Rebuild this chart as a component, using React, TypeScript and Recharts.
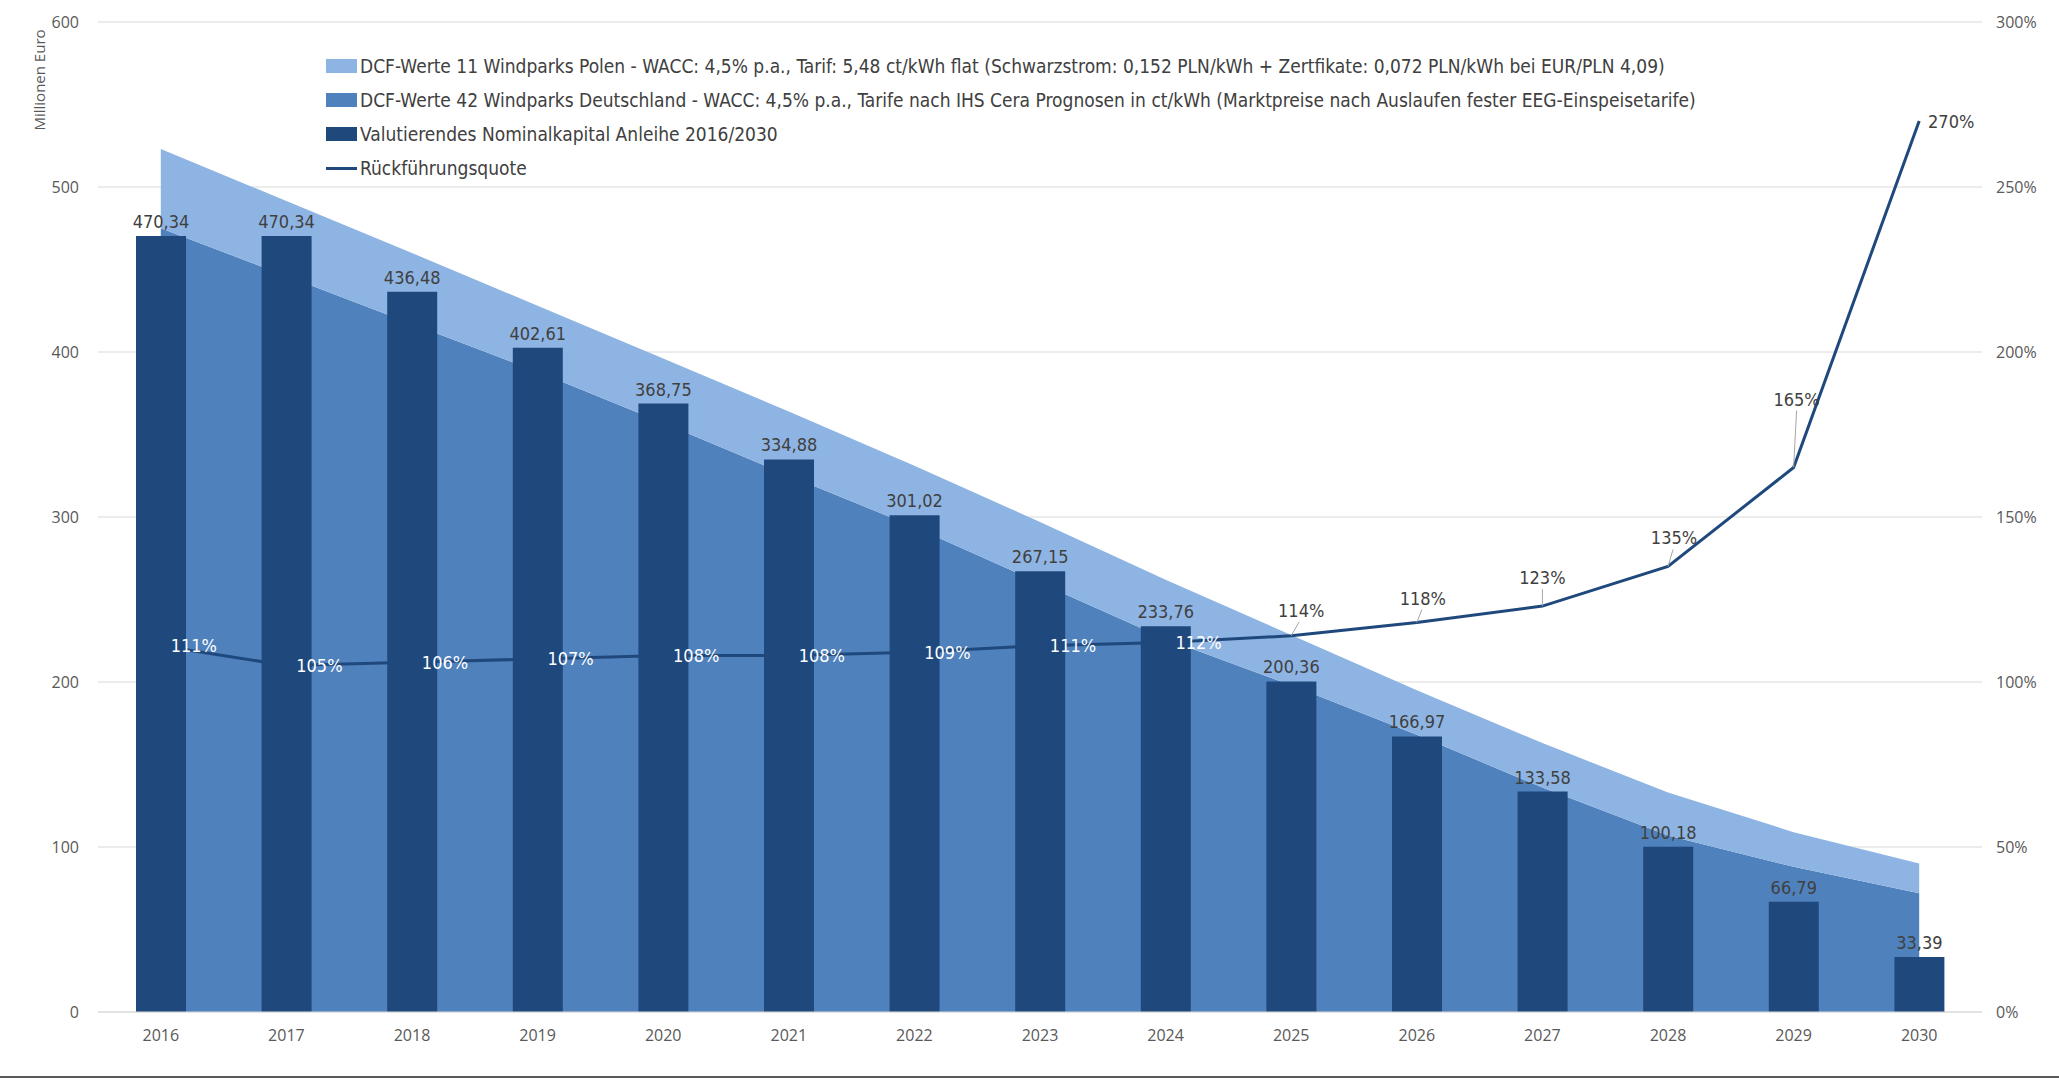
import React from 'react';
import {
  ComposedChart, Area, Bar, Line, XAxis, YAxis, CartesianGrid, LabelList,
} from 'recharts';

const years = ['2016', '2017', '2018', '2019', '2020', '2021', '2022', '2023', '2024', '2025', '2026', '2027', '2028', '2029', '2030'];
const dcfGermany = [475, 446, 417, 388, 357, 325, 294, 260, 226, 198, 168, 136, 107, 88, 72];
const dcfPoland = [48, 45.5, 43, 40, 39, 39, 37, 37, 36, 30.5, 27, 27, 26, 21, 18];
const nominal = [470.34, 470.34, 436.48, 402.61, 368.75, 334.88, 301.02, 267.15, 233.76, 200.36, 166.97, 133.58, 100.18, 66.79, 33.39];
const quote = [111, 105, 106, 107, 108, 108, 109, 111, 112, 114, 118, 123, 135, 165, 270];

const leftTicks = [0, 100, 200, 300, 400, 500, 600];
const rightTicks = [0, 50, 100, 150, 200, 250, 300];

const seriesNames = {
  poland: 'DCF-Werte 11 Windparks Polen - WACC: 4,5% p.a., Tarif: 5,48 ct/kWh flat (Schwarzstrom: 0,152 PLN/kWh + Zertfikate: 0,072 PLN/kWh bei EUR/PLN 4,09)',
  germany: 'DCF-Werte 42 Windparks Deutschland - WACC: 4,5% p.a., Tarife nach IHS Cera Prognosen in ct/kWh (Marktpreise nach Auslaufen fester EEG-Einspeisetarife)',
  nominal: 'Valutierendes Nominalkapital Anleihe 2016/2030',
  quote: 'Rückführungsquote',
};

const data = years.map((year, i) => ({
  year,
  germany: dcfGermany[i],
  poland: dcfPoland[i],
  nominal: nominal[i],
  quote: quote[i],
}));

const COLORS = {
  poland: '#8EB4E3',
  germany: '#4F81BD',
  nominal: '#1F497D',
  quote: '#1F497D',
  text: '#404040',
  axis: '#595959',
  grid: '#D9D9D9',
};

const FONT_NARROW = '"Liberation Sans Narrow", "DejaVu Sans Condensed", sans-serif';
const FONT_UI = '"Open Sans", sans-serif';

// label placement for the Rückführungsquote points (px offsets from the point)
const quoteLabelPos: { dx: number; dy: number; white: boolean; leader?: [number, number] }[] = [
  ...Array.from({ length: 9 }, () => ({ dx: 33, dy: 0, white: true })),
  { dx: 10, dy: -25, white: false, leader: [8, -14] },
  { dx: 6, dy: -24, white: false, leader: [5, -13] },
  { dx: 0, dy: -29, white: false, leader: [0, -17] },
  { dx: 6, dy: -29, white: false, leader: [5, -17] },
  { dx: 3, dy: -68, white: false, leader: [3, -57] },
  { dx: 32, dy: 0, white: false },
];

const comma = (v: number) => v.toFixed(2).replace('.', ',');

function QuoteLabel(props: any) {
  const { x, y, value, index } = props;
  const pos = quoteLabelPos[index];
  if (!pos) return null;
  return (
    <g>
      {pos.leader && (
        <line x1={x} y1={y} x2={x + pos.leader[0]} y2={y + pos.leader[1]} stroke="#A6A6A6" strokeWidth={1} />
      )}
      <text
        x={x + pos.dx}
        y={y + pos.dy}
        textAnchor="middle"
        dominantBaseline="central"
        fill={pos.white ? '#FFFFFF' : COLORS.text}
        fontSize={18}
        fontFamily={FONT_NARROW}
      >
        {`${value}%`}
      </text>
    </g>
  );
}

function AxisTitle(props: any) {
  const { viewBox } = props;
  const cx = viewBox.x + 39;
  const cy = 80;
  return (
    <text
      x={cx}
      y={cy}
      transform={`rotate(-90 ${cx} ${cy})`}
      textAnchor="middle"
      dominantBaseline="central"
      fill={COLORS.axis}
      fontSize={15}
      fontFamily={FONT_UI}
    >
      Millionen Euro
    </text>
  );
}

const legendItems = [
  { key: 'poland', type: 'rect' },
  { key: 'germany', type: 'rect' },
  { key: 'nominal', type: 'rect' },
  { key: 'quote', type: 'line' },
] as const;

function ChartLegend() {
  return (
    <div style={{ position: 'absolute', left: 326, top: 49, fontFamily: FONT_NARROW, fontSize: 19, color: COLORS.text }}>
      {legendItems.map((item) => (
        <div key={item.key} style={{ display: 'flex', alignItems: 'center', height: 34, whiteSpace: 'nowrap' }}>
          <span
            style={{
              display: 'inline-block',
              width: 31,
              height: item.type === 'line' ? 3 : 14,
              background: COLORS[item.key],
              marginRight: 3,
            }}
          />
          {seriesNames[item.key]}
        </div>
      ))}
    </div>
  );
}

export default function App() {
  return (
    <div style={{ position: 'absolute', left: 0, top: 0, width: 2059, height: 1078, background: '#fff' }}>
      <ComposedChart
        width={2059}
        height={1078}
        data={data}
        margin={{ top: 22, right: 0, left: 0, bottom: 0 }}
        barSize={50}
      >
        <CartesianGrid vertical={false} stroke={COLORS.grid} yAxisId="left" />
        <XAxis
          dataKey="year"
          height={66}
          tickLine={false}
          tickSize={0}
          tickMargin={18}
          axisLine={{ stroke: COLORS.grid }}
          tick={{ fill: COLORS.axis, fontSize: 16, fontFamily: FONT_UI }}
        />
        <YAxis
          yAxisId="left"
          width={98}
          domain={[0, 600]}
          ticks={leftTicks}
          tickLine={false}
          tickSize={0}
          tickMargin={19}
          axisLine={false}
          tick={{ fill: COLORS.axis, fontSize: 16, fontFamily: FONT_UI }}
          label={<AxisTitle />}
        />
        <YAxis
          yAxisId="right"
          orientation="right"
          width={77}
          domain={[0, 300]}
          ticks={rightTicks}
          tickFormatter={(v) => `${v}%`}
          tickLine={false}
          tickSize={0}
          tickMargin={14}
          axisLine={false}
          tick={{ fill: COLORS.axis, fontSize: 16, fontFamily: FONT_UI, textAnchor: 'start' }}
        />
        <Area
          yAxisId="left"
          type="linear"
          dataKey="germany"
          stackId="dcf"
          fill={COLORS.germany}
          fillOpacity={1}
          stroke="none"
          isAnimationActive={false}
        />
        <Area
          yAxisId="left"
          type="linear"
          dataKey="poland"
          stackId="dcf"
          fill={COLORS.poland}
          fillOpacity={1}
          stroke="none"
          isAnimationActive={false}
        />
        <Bar yAxisId="left" dataKey="nominal" fill={COLORS.nominal} isAnimationActive={false}>
          <LabelList
            dataKey="nominal"
            position="top"
            offset={8}
            formatter={(v: any) => comma(Number(v))}
            fill={COLORS.text}
            fontSize={18}
            fontFamily={FONT_NARROW}
          />
        </Bar>
        <Line
          yAxisId="right"
          type="linear"
          dataKey="quote"
          stroke={COLORS.quote}
          strokeWidth={3}
          dot={false}
          activeDot={false}
          isAnimationActive={false}
        >
          <LabelList dataKey="quote" content={<QuoteLabel />} />
        </Line>
      </ComposedChart>
      <ChartLegend />
      <div style={{ position: 'absolute', left: 0, bottom: 0, width: 2059, height: 2, background: '#595959' }} />
    </div>
  );
}
